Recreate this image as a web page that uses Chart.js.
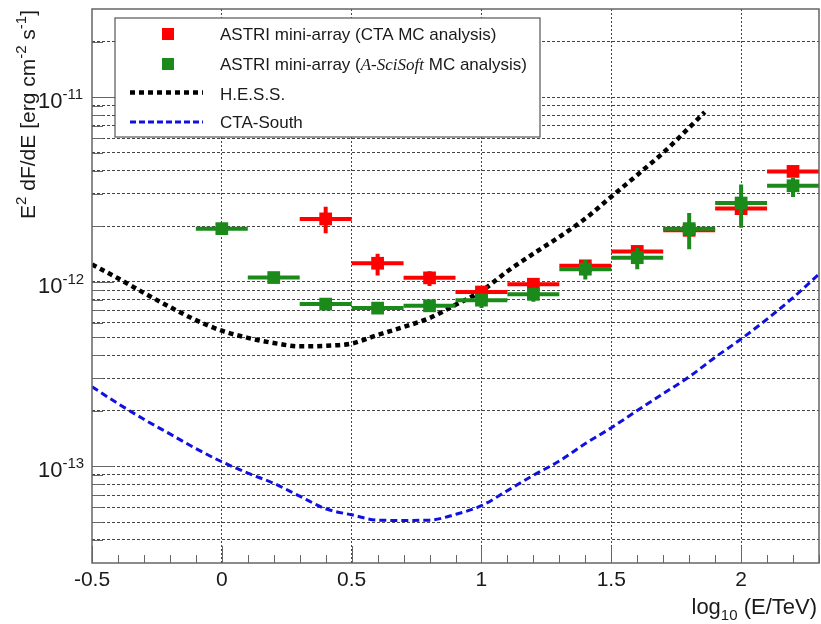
<!DOCTYPE html>
<html>
<head>
<meta charset="utf-8">
<script src="https://cdn.jsdelivr.net/npm/chart.js@4.4.1/dist/chart.umd.min.js"></script>
<style>
  html, body { margin: 0; padding: 0; background: #fff; }
  #wrap { width: 821px; height: 624px; }
</style>
</head>
<body>
<div id="wrap"><canvas id="chart" width="821" height="624"></canvas></div>
<script>
// -------------------- Data --------------------
const redX = [0.4, 0.6, 0.8, 1.0, 1.2, 1.4, 1.6, 1.8, 2.0, 2.2];
const redY = [2.19e-12, 1.26e-12, 1.05e-12, 8.8e-13, 9.7e-13, 1.22e-12, 1.46e-12, 1.9e-12, 2.49e-12, 3.96e-12];
const redLow = [1.83e-12, 1.08e-12, 0.95e-12, 8.4e-13, 9.3e-13, 1.17e-12, 1.41e-12, 1.83e-12, 2.4e-12, 3.82e-12];
const redHigh = [2.55e-12, 1.42e-12, 1.14e-12, 9.2e-13, 1.01e-12, 1.27e-12, 1.51e-12, 1.97e-12, 2.58e-12, 4.1e-12];

const greenX = [0.0, 0.2, 0.4, 0.6, 0.8, 1.0, 1.2, 1.4, 1.6, 1.8, 2.0, 2.2];
const greenY = [1.94e-12, 1.054e-12, 7.57e-13, 7.2e-13, 7.41e-13, 7.95e-13, 8.55e-13, 1.17e-12, 1.35e-12, 1.94e-12, 2.67e-12, 3.31e-12];
const greenLow = [1.86e-12, 1.0e-12, 7.1e-13, 6.7e-13, 6.95e-13, 7.2e-13, 7.8e-13, 1.03e-12, 1.17e-12, 1.5e-12, 1.96e-12, 2.88e-12];
const greenHigh = [2.02e-12, 1.1e-12, 8.0e-13, 7.75e-13, 7.9e-13, 8.6e-13, 9.3e-13, 1.31e-12, 1.53e-12, 2.36e-12, 3.36e-12, 3.65e-12];

const binHalfWidth = 0.1;

const hessX = [-0.5, -0.4, -0.3, -0.2, -0.1, 0.0, 0.1, 0.2, 0.3, 0.4, 0.5, 0.6, 0.7, 0.8, 0.9, 1.0, 1.1, 1.2, 1.3, 1.4, 1.5, 1.6, 1.7, 1.8, 1.86];
const hessY = [1.24e-12, 1.045e-12, 8.7e-13, 7.3e-13, 6.2e-13, 5.43e-13, 4.97e-13, 4.66e-13, 4.47e-13, 4.5e-13, 4.63e-13, 5.15e-13, 5.69e-13, 6.36e-13, 7.5e-13, 8.9e-13, 1.14e-12, 1.42e-12, 1.75e-12, 2.2e-12, 2.89e-12, 3.79e-12, 5.0e-12, 6.84e-12, 8.3e-12];

const ctaX = [-0.5, -0.4, -0.3, -0.2, -0.1, 0.0, 0.1, 0.2, 0.3, 0.4, 0.5, 0.6, 0.7, 0.8, 0.9, 1.0, 1.1, 1.2, 1.3, 1.4, 1.5, 1.6, 1.7, 1.8, 1.9, 2.0, 2.1, 2.2, 2.3];
const ctaY = [2.7e-13, 2.19e-13, 1.8e-13, 1.5e-13, 1.25e-13, 1.06e-13, 9.2e-14, 8.1e-14, 6.9e-14, 5.9e-14, 5.47e-14, 5.12e-14, 5.1e-14, 5.12e-14, 5.5e-14, 6.13e-14, 7.4e-14, 8.95e-14, 1.07e-13, 1.33e-13, 1.62e-13, 2.01e-13, 2.48e-13, 3.06e-13, 3.9e-13, 4.9e-13, 6.28e-13, 8.2e-13, 1.1e-12];

const xMajorTicks = [-0.5, 0, 0.5, 1, 1.5, 2];
const xTickLabels = ['-0.5', '0', '0.5', '1', '1.5', '2'];
const xGridValues = [0, 0.5, 1, 1.5, 2];
const yDecades = [-14, -13, -12, -11];
const yLabelDecades = [-13, -12, -11];

const RED = '#ff0000';
const GREEN = '#1b8a1b';
const FRAME = '#666';
const SANS = '"Liberation Sans", Arial, sans-serif';

const toPoints = (xs, ys) => xs.map((x, i) => ({ x, y: ys[i] }));

// -------------------- Helpers --------------------
function drawParts(ctx, parts, x, y) {
  let cx = x;
  for (const [t, font, dy] of parts) {
    ctx.font = font;
    ctx.fillText(t, cx, y + (dy || 0));
    cx += ctx.measureText(t).width;
  }
  return cx;
}

function partsWidth(ctx, parts) {
  let w = 0;
  for (const [t, font] of parts) {
    ctx.font = font;
    w += ctx.measureText(t).width;
  }
  return w;
}

// -------------------- Error bars --------------------
const errorBars = {
  id: 'errorBars',
  beforeDatasetDraw(chart, args) {
    const ds = chart.data.datasets[args.index];
    if (!ds.errLow) return;
    const { ctx, chartArea, scales: { x, y } } = chart;
    ctx.save();
    ctx.beginPath();
    ctx.rect(chartArea.left, chartArea.top, chartArea.width, chartArea.height);
    ctx.clip();
    ctx.strokeStyle = ds.backgroundColor;
    ctx.lineWidth = 4;
    ds.data.forEach((p, i) => {
      const px = x.getPixelForValue(p.x);
      const py = y.getPixelForValue(p.y);
      ctx.beginPath();
      ctx.moveTo(x.getPixelForValue(p.x - binHalfWidth), py);
      ctx.lineTo(x.getPixelForValue(p.x + binHalfWidth), py);
      ctx.moveTo(px, y.getPixelForValue(ds.errLow[i]));
      ctx.lineTo(px, y.getPixelForValue(ds.errHigh[i]));
      ctx.stroke();
    });
    ctx.restore();
  }
};

// -------------------- Frame, ticks, labels, legend --------------------
const rootFrame = {
  id: 'rootFrame',
  afterDraw(chart) {
    const { ctx, chartArea: a, scales: { x, y } } = chart;
    ctx.save();

    // tick marks
    ctx.strokeStyle = FRAME;
    ctx.lineWidth = 1;
    ctx.beginPath();
    for (let v = -0.5; v <= 2.3001; v += 0.1) {
      const px = Math.round(x.getPixelForValue(v)) + 0.5;
      const major = Math.abs(v * 2 - Math.round(v * 2)) < 1e-6;
      ctx.moveTo(px, a.bottom);
      ctx.lineTo(px, a.bottom - (major ? 17 : 8));
    }
    yDecades.forEach(e => {
      for (let m = 1; m <= 9; m++) {
        const v = m * Math.pow(10, e);
        if (v < y.min * 1.0001 || v > y.max * 0.999) continue;
        const py = Math.round(y.getPixelForValue(v)) + 0.5;
        ctx.moveTo(a.left, py);
        ctx.lineTo(a.left + (m === 1 ? 22 : 11), py);
      }
    });
    ctx.stroke();

    // frame
    ctx.lineWidth = 1.5;
    ctx.strokeRect(a.left, a.top, a.right - a.left, a.bottom - a.top);

    // x tick labels
    ctx.fillStyle = '#1a1a1a';
    ctx.font = '21px ' + SANS;
    ctx.textAlign = 'center';
    ctx.textBaseline = 'alphabetic';
    xMajorTicks.forEach((v, i) => {
      ctx.fillText(xTickLabels[i], x.getPixelForValue(v), 586);
    });

    // y tick labels 10^n
    ctx.textAlign = 'left';
    yLabelDecades.forEach(e => {
      const py = y.getPixelForValue(Math.pow(10, e));
      drawParts(ctx, [
        ['10', '22px ' + SANS, 0],
        [String(e), '15px ' + SANS, -9]
      ], 38, py + 11);
    });

    // x title
    const xt = [
      ['log', '22px ' + SANS, 0],
      ['10', '15px ' + SANS, 6],
      [' (E/TeV)', '22px ' + SANS, 0]
    ];
    drawParts(ctx, xt, 817 - partsWidth(ctx, xt), 614);

    // y title
    const yt = [
      ['E', '21px ' + SANS, 0],
      ['2', '15px ' + SANS, -9],
      [' dF/dE [erg cm', '21px ' + SANS, 0],
      ['-2', '15px ' + SANS, -9],
      [' s', '21px ' + SANS, 0],
      ['-1', '15px ' + SANS, -9],
      [']', '21px ' + SANS, 0]
    ];
    ctx.save();
    ctx.translate(35, 10);
    ctx.rotate(-Math.PI / 2);
    drawParts(ctx, yt, -partsWidth(ctx, yt), 0);
    ctx.restore();

    // legend box
    ctx.fillStyle = '#fff';
    ctx.fillRect(115, 18, 425, 119);
    ctx.strokeStyle = '#555';
    ctx.lineWidth = 1.2;
    ctx.strokeRect(115, 18, 425, 119);

    ctx.fillStyle = RED;
    ctx.fillRect(162, 28, 12, 12);
    ctx.fillStyle = GREEN;
    ctx.fillRect(162, 58, 12, 12);

    ctx.lineWidth = 4.5;
    ctx.strokeStyle = '#000';
    ctx.setLineDash([5, 4]);
    ctx.beginPath();
    ctx.moveTo(130, 92.5);
    ctx.lineTo(203, 92.5);
    ctx.stroke();
    ctx.lineWidth = 3;
    ctx.strokeStyle = '#1010e0';
    ctx.setLineDash([6, 3]);
    ctx.beginPath();
    ctx.moveTo(130, 122);
    ctx.lineTo(203, 122);
    ctx.stroke();
    ctx.setLineDash([]);

    const lf = '17px ' + SANS;
    ctx.fillStyle = '#1a1a1a';
    drawParts(ctx, [['ASTRI mini-array (CTA MC analysis)', lf, 0]], 220, 40);
    drawParts(ctx, [
      ['ASTRI mini-array (', lf, 0],
      ['A-SciSoft', 'italic 17px "Liberation Serif", serif', 0],
      [' MC analysis)', lf, 0]
    ], 220, 70);
    drawParts(ctx, [['H.E.S.S.', lf, 0]], 220, 100);
    drawParts(ctx, [['CTA-South', lf, 0]], 220, 128);

    ctx.restore();
  }
};

// -------------------- Chart --------------------
new Chart(document.getElementById('chart'), {
  type: 'scatter',
  data: {
    datasets: [
      {
        label: 'ASTRI mini-array (A-SciSoft MC analysis)',
        data: toPoints(greenX, greenY),
        pointStyle: 'rect',
        pointRadius: 9,
        pointBorderWidth: 0,
        backgroundColor: GREEN,
        borderColor: GREEN,
        errLow: greenLow,
        errHigh: greenHigh
      },
      {
        label: 'ASTRI mini-array (CTA MC analysis)',
        data: toPoints(redX, redY),
        pointStyle: 'rect',
        pointRadius: 9,
        pointBorderWidth: 0,
        backgroundColor: RED,
        borderColor: RED,
        errLow: redLow,
        errHigh: redHigh
      },
      {
        label: 'H.E.S.S.',
        data: toPoints(hessX, hessY),
        showLine: true,
        pointRadius: 0,
        borderColor: '#000',
        borderWidth: 4.5,
        borderDash: [5, 4],
        cubicInterpolationMode: 'monotone'
      },
      {
        label: 'CTA-South',
        data: toPoints(ctaX, ctaY),
        showLine: true,
        pointRadius: 0,
        borderColor: '#1010e0',
        borderWidth: 3,
        borderDash: [7, 4],
        cubicInterpolationMode: 'monotone'
      }
    ]
  },
  options: {
    responsive: false,
    animation: false,
    devicePixelRatio: 1,
    layout: { autoPadding: false, padding: { left: 92, right: 2, top: 9, bottom: 61 } },
    plugins: {
      legend: { display: false },
      tooltip: { enabled: false }
    },
    scales: {
      x: {
        type: 'linear',
        min: -0.5,
        max: 2.3,
        ticks: { display: false },
        afterBuildTicks: scale => { scale.ticks = xGridValues.map(value => ({ value })); },
        grid: { color: '#444', lineWidth: 1, drawTicks: false },
        border: { display: false, dash: [2, 2] }
      },
      y: {
        type: 'logarithmic',
        min: 3e-14,
        max: 3e-11,
        ticks: { display: false },
        afterBuildTicks: scale => {
          const t = [];
          yDecades.forEach(e => {
            for (let m = 1; m <= 9; m++) {
              const v = m * Math.pow(10, e);
              if (v > scale.min * 1.0001 && v < scale.max * 0.999) t.push({ value: v });
            }
          });
          scale.ticks = t;
        },
        grid: { color: '#444', lineWidth: 1, drawTicks: false },
        border: { display: false, dash: [3, 2] }
      }
    }
  },
  plugins: [errorBars, rootFrame]
});
</script>
</body>
</html>
